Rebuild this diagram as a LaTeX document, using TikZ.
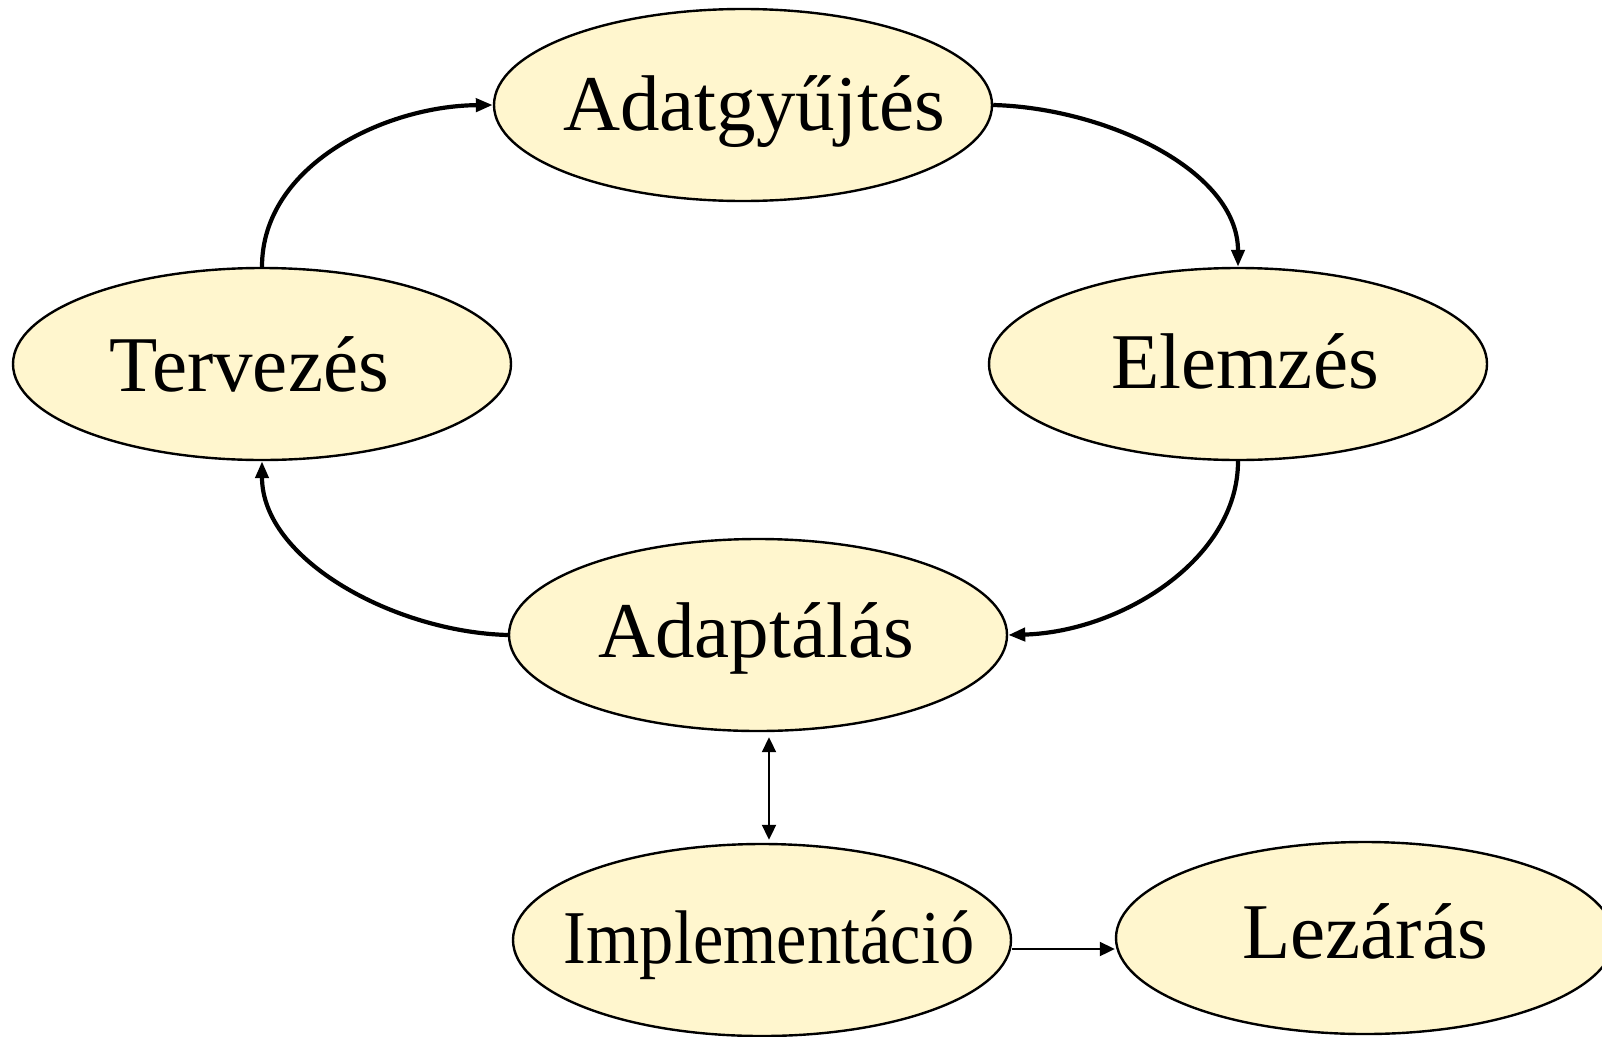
\documentclass[tikz,border=0pt]{standalone}
\usepackage{fontspec}
\setmainfont{Liberation Serif}
\usetikzlibrary{shapes.geometric,arrows.meta}
\definecolor{ellfill}{RGB}{255,246,206}
\newcommand{\mylbl}[3]{\makebox[0pt]{\hspace*{#1}\raisebox{#2}{#3}}}
\begin{document}
\begin{tikzpicture}[x=1pt,y=-1pt,
  phase/.style={ellipse,draw=black,line width=2.4pt,fill=ellfill,
    minimum width=498pt,minimum height=192pt,inner sep=0pt,
    text height=0pt,text depth=0pt,font=\fontsize{79pt}{90pt}\selectfont},
  cyc/.style={line width=4.2pt,-{Triangle[length=17pt,width=13pt]}},
  onearrow/.style={line width=2pt,-{Triangle[length=15pt,width=14pt]}},
  twoarrow/.style={line width=2pt,{Triangle[length=15pt,width=14pt]}-{Triangle[length=15pt,width=14pt]}}]
\useasboundingbox (0,0) rectangle (1602,1036);
\node[phase] (adat)  at (743,105)  {\mylbl{22pt}{-25pt}{Adatgyűjtés}};
\node[phase] (terv)  at (262,364)  {\mylbl{-26pt}{-27pt}{Tervezés}};
\node[phase] (elem)  at (1238,364) {\mylbl{14pt}{-24pt}{Elemzés}};
\node[phase] (adapt) at (758,635)  {\mylbl{-4pt}{-22pt}{Adaptálás}};
\node[phase] (impl)  at (762,940)  {\mylbl{14pt}{-23pt}{\scalebox{0.9}[1]{\fontsize{76pt}{90pt}\selectfont Implementáció}}};
\node[phase] (lez)   at (1365,938) {\mylbl{0pt}{-20pt}{Lezárás}};
\draw[cyc] (terv.north) .. controls (262,165) and (385,106) .. (adat.west);
\draw[cyc] (adat.east) .. controls (1105,108) and (1238,170) .. (elem.north);
\draw[cyc] (elem.south) .. controls (1238,560) and (1120,632) .. (adapt.east);
\draw[cyc] (adapt.west) .. controls (395,632) and (262,560) .. (terv.south);
\draw[twoarrow,shorten <=5pt,shorten >=3pt] ([xshift=11pt]adapt.south) -- ([xshift=7pt]impl.north);
\draw[onearrow] ([yshift=-9pt]impl.east) -- ([yshift=-11pt]lez.west);
\end{tikzpicture}
\end{document}
